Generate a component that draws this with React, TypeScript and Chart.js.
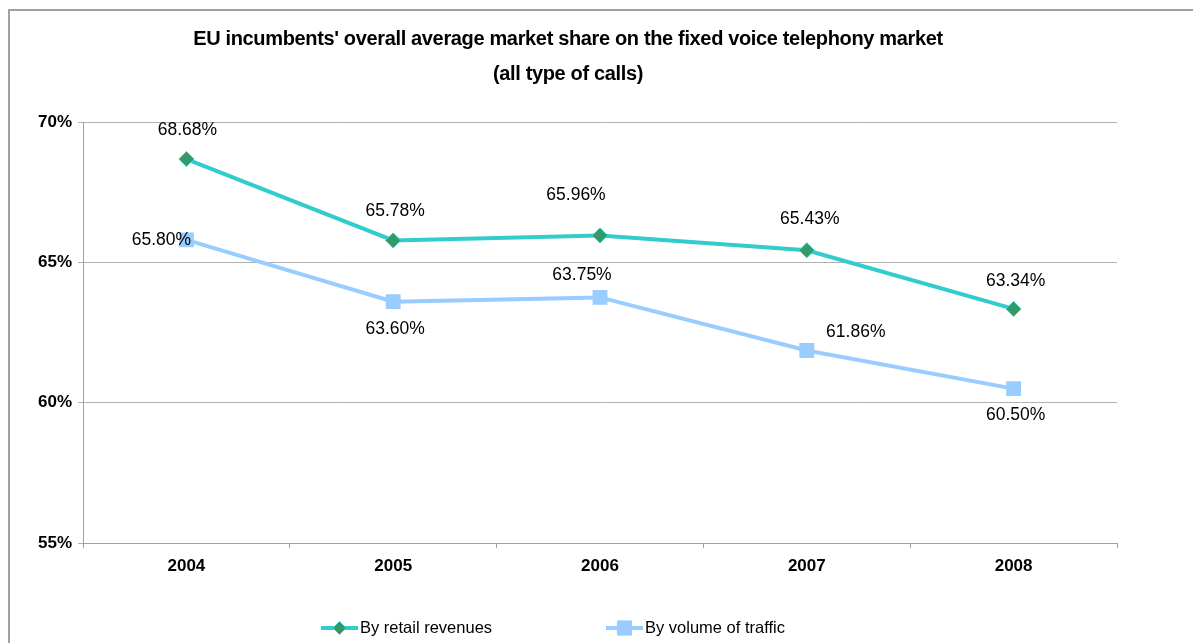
import React, { useEffect, useRef } from 'react';
import { Chart, registerables } from 'chart.js';

Chart.register(...registerables);

const titleLines = [
  "EU incumbents' overall average market share on the fixed voice telephony market",
  '(all type of calls)',
];
const categories = ['2004', '2005', '2006', '2007', '2008'];
const retailRevenues = [68.68, 65.78, 65.96, 65.43, 63.34];
const volumeOfTraffic = [65.8, 63.6, 63.75, 61.86, 60.5];
const seriesNames = ['By retail revenues', 'By volume of traffic'];
const yMin = 55;
const yMax = 70;
const yStep = 5;

// label placement (style/layout, not data)
const retailLabelOffsets = [[1, -29], [2, -29], [-24, -40], [3, -31], [2, -28]];
const volumeLabelOffsets = [[-25, 0], [2, 28], [-18, -22], [49, -18], [2, 27]];

const RETAIL_LINE = '#33CCCC';
const RETAIL_FILL = '#339966';
const VOLUME_LINE = '#99CCFF';
const FONT = "'Liberation Sans', Arial, sans-serif";

const fmt = (v: number) => v.toFixed(2) + '%';

const decorPlugin = {
  id: 'decor',
  beforeDraw(chart: any) {
    const ctx = chart.ctx;
    ctx.save();
    ctx.fillStyle = '#ffffff';
    ctx.fillRect(0, 0, chart.width, chart.height);
    ctx.fillStyle = '#a0a0a0';
    ctx.fillRect(8, 9, chart.width - 8, 2);
    ctx.fillRect(8, 9, 2, chart.height - 9);
    ctx.fillStyle = '#000000';
    ctx.font = `bold 20px ${FONT}`;
    try {
      (ctx as any).letterSpacing = '-0.35px';
    } catch (e) {}
    ctx.textAlign = 'center';
    ctx.textBaseline = 'middle';
    ctx.fillText(titleLines[0], 568, 39);
    ctx.fillText(titleLines[1], 568, 74);
    try {
      (ctx as any).letterSpacing = '0px';
    } catch (e) {}
    ctx.restore();
  },
  afterDatasetsDraw(chart: any) {
    const ctx = chart.ctx;
    ctx.save();
    ctx.font = `17.5px ${FONT}`;
    ctx.fillStyle = '#000000';
    ctx.textAlign = 'center';
    ctx.textBaseline = 'middle';
    const sets = [
      { data: retailRevenues, offs: retailLabelOffsets },
      { data: volumeOfTraffic, offs: volumeLabelOffsets },
    ];
    sets.forEach((s, di) => {
      const meta = chart.getDatasetMeta(di);
      meta.data.forEach((pt: any, i: number) => {
        const [dx, dy] = s.offs[i];
        ctx.fillText(fmt(s.data[i]), pt.x + dx, pt.y + dy);
      });
    });

    // legend
    const legendY = 628;
    const items = [
      { x: 321, name: seriesNames[0], color: RETAIL_LINE, fill: RETAIL_FILL, style: 'rectRot', r: 6.5 },
      { x: 606, name: seriesNames[1], color: VOLUME_LINE, fill: VOLUME_LINE, style: 'rect', r: 8.5 },
    ];
    items.forEach((it) => {
      ctx.strokeStyle = it.color;
      ctx.lineWidth = 4;
      ctx.beginPath();
      ctx.moveTo(it.x, legendY);
      ctx.lineTo(it.x + 37, legendY);
      ctx.stroke();
      const cx = it.x + 18.5;
      ctx.fillStyle = it.fill;
      ctx.strokeStyle = it.color;
      ctx.lineWidth = 1;
      ctx.beginPath();
      if (it.style === 'rectRot') {
        ctx.moveTo(cx - it.r, legendY);
        ctx.lineTo(cx, legendY - it.r);
        ctx.lineTo(cx + it.r, legendY);
        ctx.lineTo(cx, legendY + it.r);
        ctx.closePath();
      } else {
        ctx.rect(cx - it.r / 1.2, legendY - it.r / 1.2, (2 * it.r) / 1.2, (2 * it.r) / 1.2);
      }
      ctx.fill();
      ctx.stroke();
      ctx.fillStyle = '#000000';
      ctx.font = `16.5px ${FONT}`;
      ctx.textAlign = 'left';
      ctx.fillText(it.name, it.x + 39, legendY);
    });
    ctx.restore();
  },
};

export default function App() {
  const ref = useRef<HTMLCanvasElement | null>(null);
  useEffect(() => {
    if (!ref.current) return;
    const chart = new Chart(ref.current, {
      type: 'line',
      data: {
        labels: categories,
        datasets: [
          {
            label: seriesNames[0],
            data: retailRevenues,
            borderColor: RETAIL_LINE,
            borderWidth: 4,
            tension: 0,
            pointStyle: 'rectRot',
            pointRadius: 7.5,
            pointBackgroundColor: RETAIL_FILL,
            pointBorderColor: RETAIL_LINE,
            pointBorderWidth: 1,
          },
          {
            label: seriesNames[1],
            data: volumeOfTraffic,
            borderColor: VOLUME_LINE,
            borderWidth: 4,
            tension: 0,
            pointStyle: 'rect',
            pointRadius: 10.5,
            pointBackgroundColor: VOLUME_LINE,
            pointBorderColor: VOLUME_LINE,
            pointBorderWidth: 0,
          },
        ],
      },
      options: {
        animation: false,
        responsive: false,
        devicePixelRatio: 1,
        layout: { padding: { top: 122, right: 76, left: 0, bottom: 0 } },
        plugins: {
          legend: { display: false },
          title: { display: false },
          tooltip: { enabled: false },
        },
        scales: {
          x: {
            afterFit: (s: any) => {
              s.height = 100;
            },
            offset: true,
            grid: {
              offset: true,
              drawOnChartArea: false,
              drawTicks: true,
              tickLength: 5,
              color: '#a0a0a0',
            },
            border: { display: true, color: '#a0a0a0', width: 1 },
            ticks: {
              color: '#000000',
              font: { family: FONT, size: 17, weight: 'bold' },
              padding: 8,
              maxRotation: 0,
            },
          },
          y: {
            min: yMin,
            max: yMax,
            afterFit: (s: any) => {
              s.width = 83;
            },
            grid: {
              color: '#b0b0b0',
              tickLength: 5,
              drawTicks: true,
            },
            border: { display: true, color: '#a0a0a0', width: 1 },
            ticks: {
              stepSize: yStep,
              color: '#000000',
              font: { family: FONT, size: 17, weight: 'bold' },
              padding: 6,
              callback: (v: any) => v + '%',
            },
          },
        },
      },
      plugins: [decorPlugin],
    });
    return () => chart.destroy();
  }, []);
  return (
    <div style={{ position: 'absolute', left: 0, top: 0, width: 1193, height: 643, overflow: 'hidden' }}>
      <canvas ref={ref} width={1193} height={643} style={{ display: 'block', width: 1193, height: 643 }} />
    </div>
  );
}
